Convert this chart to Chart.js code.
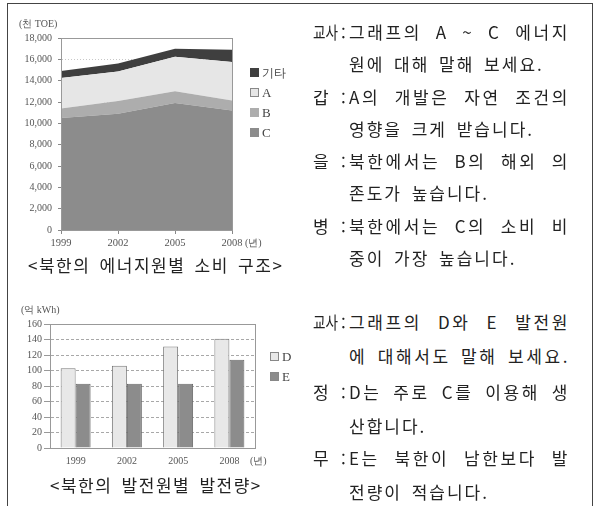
<!DOCTYPE html>
<html lang="ko">
<head>
<meta charset="utf-8">
<script src="https://cdn.jsdelivr.net/npm/chart.js@4.4.0/dist/chart.umd.min.js"></script>
<style>
  html, body { margin: 0; padding: 0; background: #fff; }
  body { width: 597px; height: 506px; position: relative; overflow: hidden; }
  #box { position: absolute; left: 7px; top: 3px; width: 584px; height: 520px; border: 1.5px solid #444; }
  canvas { position: absolute; }
  .abs { position: absolute; white-space: nowrap; color: #222; }
  .kr { font-family: 'Noto Sans CJK KR', sans-serif; }
  .small { font-family: 'Liberation Serif', 'DejaVu Serif', serif; font-size: 10px; color: #555; line-height: 12px; }
  .cap { font-size: 17px; line-height: 22px; letter-spacing: 1.5px; word-spacing: 3px; }
  .ln { font-size: 17px; line-height: 20px; letter-spacing: 2px; word-spacing: 3px; }
  .full { width: 221px; text-align: justify; text-align-last: justify; letter-spacing: 2.6px; word-spacing: 0; }
  .lab { font-size: 17px; line-height: 20px; }
  .lab2 { transform: scaleX(0.8); transform-origin: left center; }
  .sw { position: absolute; width: 9px; height: 9px; box-sizing: border-box; border: 1px solid #888; }
  .lg { font-family: 'Liberation Serif', serif; font-size: 13px; color: #444; line-height: 14px; }
</style>
</head>
<body>
<div id="box"></div>

<canvas id="graficoEnergia" width="300" height="260" style="left:0;top:0"></canvas>
<div class="abs small kr" style="left:19px;top:18px">(천 TOE)</div>
<div class="abs small kr" style="left:245px;top:237px">(년)</div>
<div id="legendaEnergia"></div>
<div class="abs kr cap" style="left:28px;top:254px">&lt;북한의 에너지원별 소비 구조&gt;</div>

<canvas id="graficoGeracao" width="300" height="185" style="left:0;top:290px"></canvas>
<div class="abs small kr" style="left:21px;top:304px">(억 kWh)</div>
<div class="abs small kr" style="left:250px;top:455px">(년)</div>
<div id="legendaGeracao"></div>
<div class="abs kr cap" style="left:50px;top:474px">&lt;북한의 발전원별 발전량&gt;</div>

<div id="falas"></div>

<script>
  // dados
  const anos = ['1999', '2002', '2005', '2008'];
  const energiaC = [10500, 10900, 11900, 11200];
  const energiaB = [900, 1200, 1100, 950];
  const energiaA = [2850, 2750, 3250, 3600];
  const energiaOutros = [650, 750, 750, 1150];
  const energiaMax = 18000;
  const energiaPasso = 2000;

  const geracaoD = [103, 106, 131, 141];
  const geracaoE = [83, 83, 83, 114];
  const geracaoMax = 160;
  const geracaoPasso = 20;

  const coresEnergia = { outros: '#3f3f3f', A: '#e6e6e6', B: '#adadad', C: '#8c8c8c' };
  const coresGeracao = { D: '#e8e8e8', E: '#8c8c8c' };

  Chart.defaults.font.family = "'Liberation Serif', 'DejaVu Serif', serif";
  Chart.defaults.color = '#555';

  // moldura da área do gráfico
  const moldura = {
    id: 'moldura',
    afterDraw(chart) {
      const { ctx, chartArea: a } = chart;
      ctx.save();
      ctx.strokeStyle = '#999';
      ctx.lineWidth = 1;
      ctx.strokeRect(Math.round(a.left) + 0.5, Math.round(a.top) + 0.5,
        Math.round(a.right - a.left), Math.round(a.bottom - a.top));
      ctx.restore();
    }
  };

  function criarGraficoEnergia() {
    const area = (label, data, cor, fill) => ({
      label, data, fill,
      backgroundColor: cor,
      borderWidth: 0,
      pointRadius: 0,
      tension: 0
    });
    return new Chart(document.getElementById('graficoEnergia'), {
      type: 'line',
      data: {
        labels: anos,
        datasets: [
          area('C', energiaC, coresEnergia.C, 'origin'),
          area('B', energiaB, coresEnergia.B, '-1'),
          area('A', energiaA, coresEnergia.A, '-1'),
          area('기타', energiaOutros, coresEnergia.outros, '-1')
        ]
      },
      options: {
        responsive: false,
        animation: false,
        layout: { padding: { left: 0, right: 68, top: 38, bottom: 10 } },
        plugins: { legend: { display: false }, tooltip: { enabled: false } },
        scales: {
          x: {
            offset: false,
            grid: { drawOnChartArea: false, tickLength: 4, color: '#888' },
            border: { color: '#888' },
            ticks: { padding: 3, font: { size: 10.5 }, maxRotation: 0 },
            afterFit: s => { s.height = 20; }
          },
          y: {
            stacked: true,
            min: 0,
            max: energiaMax,
            grid: { color: '#c8c8c8', tickLength: 3, tickColor: '#888', tickBorderDash: [] },
            border: { color: '#888', dash: [1, 2] },
            ticks: {
              stepSize: energiaPasso,
              padding: 6,
              font: { size: 10 },
              callback: v => v.toLocaleString('en-US')
            },
            afterFit: s => { s.width = 61; }
          }
        }
      },
      plugins: [moldura]
    });
  }

  function criarGraficoGeracao() {
    const barra = (label, data, cor, borda) => ({
      label, data,
      backgroundColor: cor,
      borderColor: borda,
      borderWidth: 1,
      categoryPercentage: 0.585,
      barPercentage: 1
    });
    return new Chart(document.getElementById('graficoGeracao'), {
      type: 'bar',
      data: {
        labels: anos,
        datasets: [
          barra('D', geracaoD, coresGeracao.D, '#7a7a7a'),
          barra('E', geracaoE, coresGeracao.E, '#6a6a6a')
        ]
      },
      options: {
        responsive: false,
        animation: false,
        layout: { padding: { left: 0, right: 45, top: 34, bottom: 7 } },
        plugins: { legend: { display: false }, tooltip: { enabled: false } },
        scales: {
          x: {
            grid: { display: false, drawTicks: false },
            border: { color: '#888' },
            ticks: { padding: 7, font: { size: 10 }, maxRotation: 0 },
            afterFit: s => { s.height = 20; }
          },
          y: {
            min: 0,
            max: geracaoMax,
            grid: { color: '#a8a8a8', tickLength: 6, tickColor: '#999', tickBorderDash: [] },
            border: { color: '#888', dash: [3, 2] },
            ticks: { stepSize: geracaoPasso, padding: 2, font: { size: 10 } },
            afterFit: s => { s.width = 50; }
          }
        }
      },
      plugins: [moldura]
    });
  }

  // legenda em html
  function criarLegenda(id, itens, x, ys) {
    const alvo = document.getElementById(id);
    itens.forEach((item, i) => {
      const sw = document.createElement('div');
      sw.className = 'sw';
      sw.style.left = x + 'px';
      sw.style.top = (ys[i] - 5) + 'px';
      sw.style.background = item.cor;
      if (item.escuro) sw.style.borderColor = item.cor;
      alvo.appendChild(sw);
      const coreano = /[가-힣]/.test(item.nome);
      const t = document.createElement('div');
      t.className = 'abs lg' + (coreano ? ' kr' : '');
      if (coreano) t.style.fontSize = '12px';
      t.style.left = (x + 12) + 'px';
      t.style.top = (ys[i] - 7) + 'px';
      t.textContent = item.nome;
      alvo.appendChild(t);
    });
  }

  // falas do lado direito
  const falasTopo = [
    { lab: '교사', y: 32, linhas: ['그래프의 A ~ C 에너지', '원에 대해 말해 보세요.'] },
    { lab: '갑', y: 97, linhas: ['A의 개발은 자연 조건의', '영향을 크게 받습니다.'] },
    { lab: '을', y: 161, linhas: ['북한에서는 B의 해외 의', '존도가 높습니다.'] },
    { lab: '병', y: 226, linhas: ['북한에서는 C의 소비 비', '중이 가장 높습니다.'] }
  ];
  const falasBase = [
    { lab: '교사', y: 322, linhas: ['그래프의 D와 E 발전원', '에 대해서도 말해 보세요.'], cheia: true },
    { lab: '정', y: 392, linhas: ['D는 주로 C를 이용해 생', '산합니다.'] },
    { lab: '무', y: 458, linhas: ['E는 북한이 남한보다 발', '전량이 적습니다.'] }
  ];

  function criarFalas(falas, passo) {
    const alvo = document.getElementById('falas');
    falas.forEach(f => {
      const lab = document.createElement('div');
      lab.className = 'abs kr lab' + (f.lab.length > 1 ? ' lab2' : '');
      lab.style.left = '313px';
      lab.style.top = (f.y - 10) + 'px';
      lab.textContent = f.lab;
      alvo.appendChild(lab);
      const dp = document.createElement('div');
      dp.className = 'abs kr lab';
      dp.style.left = '341px';
      dp.style.top = (f.y - 9) + 'px';
      dp.textContent = ':';
      alvo.appendChild(dp);
      f.linhas.forEach((txt, i) => {
        const d = document.createElement('div');
        d.className = 'abs kr ln' + (i === 0 || f.cheia ? ' full' : '');
        d.style.left = '349px';
        d.style.top = (f.y - 10 + i * passo) + 'px';
        d.textContent = txt;
        alvo.appendChild(d);
      });
    });
  }

  criarGraficoEnergia();
  criarGraficoGeracao();
  criarLegenda('legendaEnergia', [
    { nome: '기타', cor: coresEnergia.outros, escuro: true },
    { nome: 'A', cor: coresEnergia.A },
    { nome: 'B', cor: coresEnergia.B, escuro: true },
    { nome: 'C', cor: coresEnergia.C, escuro: true }
  ], 250, [73, 93, 113, 133]);
  criarLegenda('legendaGeracao', [
    { nome: 'D', cor: coresGeracao.D },
    { nome: 'E', cor: coresGeracao.E }
  ], 270, [357, 377]);
  criarFalas(falasTopo, 32.3);
  criarFalas(falasBase, 33.5);
</script>
</body>
</html>
